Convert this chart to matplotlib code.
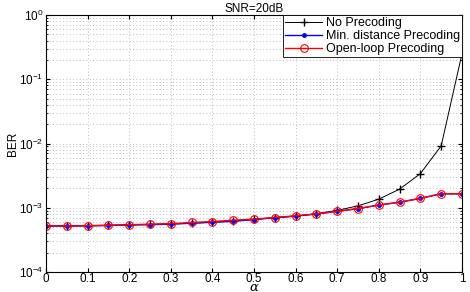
import matplotlib
matplotlib.use("Agg")
import matplotlib.pyplot as plt
import numpy as np

plt.rcParams.update({
    "font.family": ["Liberation Sans", "DejaVu Sans"],
    "font.size": 8,
    "xtick.direction": "in",
    "ytick.direction": "in",
    "xtick.top": True,
    "ytick.right": True,
    "mathtext.fontset": "dejavuserif",
})

# ---------------------------------------------------------------------------
# Data
# ---------------------------------------------------------------------------
alpha = [0, 0.05, 0.1, 0.15, 0.2, 0.25, 0.3, 0.35, 0.4, 0.45, 0.5,
         0.55, 0.6, 0.65, 0.7, 0.75, 0.8, 0.85, 0.9, 0.95, 1.0]

ber_none = [5.2e-4, 5.2e-4, 5.25e-4, 5.3e-4, 5.4e-4, 5.5e-4, 5.6e-4, 5.75e-4,
            5.95e-4, 6.2e-4, 6.6e-4, 7.0e-4, 7.4e-4, 8.1e-4, 9.1e-4, 1.07e-3,
            1.36e-3, 1.95e-3, 3.4e-3, 9.2e-3, 2.5e-1]
ber_mindist = [5.2e-4, 5.2e-4, 5.25e-4, 5.3e-4, 5.4e-4, 5.45e-4, 5.55e-4, 5.75e-4,
               5.95e-4, 6.15e-4, 6.55e-4, 7.0e-4, 7.4e-4, 8.0e-4, 8.8e-4, 9.7e-4,
               1.1e-3, 1.22e-3, 1.4e-3, 1.65e-3, 1.65e-3]
ber_openloop = [5.2e-4, 5.2e-4, 5.25e-4, 5.35e-4, 5.45e-4, 5.55e-4, 5.65e-4, 5.9e-4,
                6.1e-4, 6.4e-4, 6.65e-4, 7.05e-4, 7.5e-4, 8.0e-4, 8.8e-4, 9.7e-4,
                1.1e-3, 1.22e-3, 1.4e-3, 1.65e-3, 1.65e-3]

# ---------------------------------------------------------------------------
# Figure
# ---------------------------------------------------------------------------
fig = plt.figure(figsize=(4.7, 2.92), dpi=100)
ax = fig.add_axes([46 / 470, 1 - 272 / 292, 416 / 470, 257 / 292])

ax.semilogy(alpha, ber_none, color="black", marker="+", markersize=5.5,
            linewidth=0.7, label="No Precoding")
ax.semilogy(alpha, ber_mindist, color="blue", marker=".", markersize=5,
            linewidth=1.0, label="Min. distance Precoding")
ax.semilogy(alpha, ber_openloop, color="red", marker="o", markersize=5.5,
            markerfacecolor="none", markeredgewidth=0.8, linewidth=1.0,
            label="Open-loop Precoding")

ax.set_xlim(0, 1)
ax.set_ylim(1e-4, 1)
ax.set_xticks(np.arange(0, 1.01, 0.1))
ax.set_xticklabels(["0", "0.1", "0.2", "0.3", "0.4", "0.5",
                    "0.6", "0.7", "0.8", "0.9", "1"])
ax.grid(True, which="major", linestyle=(0, (1, 3)), color="#a8a8a8", linewidth=0.6)
ax.grid(True, which="minor", axis="y", linestyle=(0, (1, 3)), color="#a8a8a8",
        linewidth=0.6)
ax.tick_params(which="both", length=3, labelsize=8.5, pad=2)
ax.tick_params(axis="x", labelsize=8.5, pad=0.8)
ax.tick_params(which="minor", length=1.5)

ax.set_title("SNR=20dB", fontsize=8.5, pad=2)
xl = ax.set_xlabel(r"$\alpha$", fontsize=9.5)
xl.set_verticalalignment("baseline")
ax.xaxis.set_label_coords(0.5, -0.073)
ax.set_ylabel("BER", fontsize=8.5, labelpad=0)

leg = ax.legend(loc="upper right", fontsize=9, fancybox=False, framealpha=1,
                edgecolor="black", borderaxespad=0.0, handlelength=3.0,
                handletextpad=0.3, borderpad=0.15, labelspacing=0.1)
leg.get_frame().set_linewidth(0.6)

fig.savefig("out.png", dpi=100)
